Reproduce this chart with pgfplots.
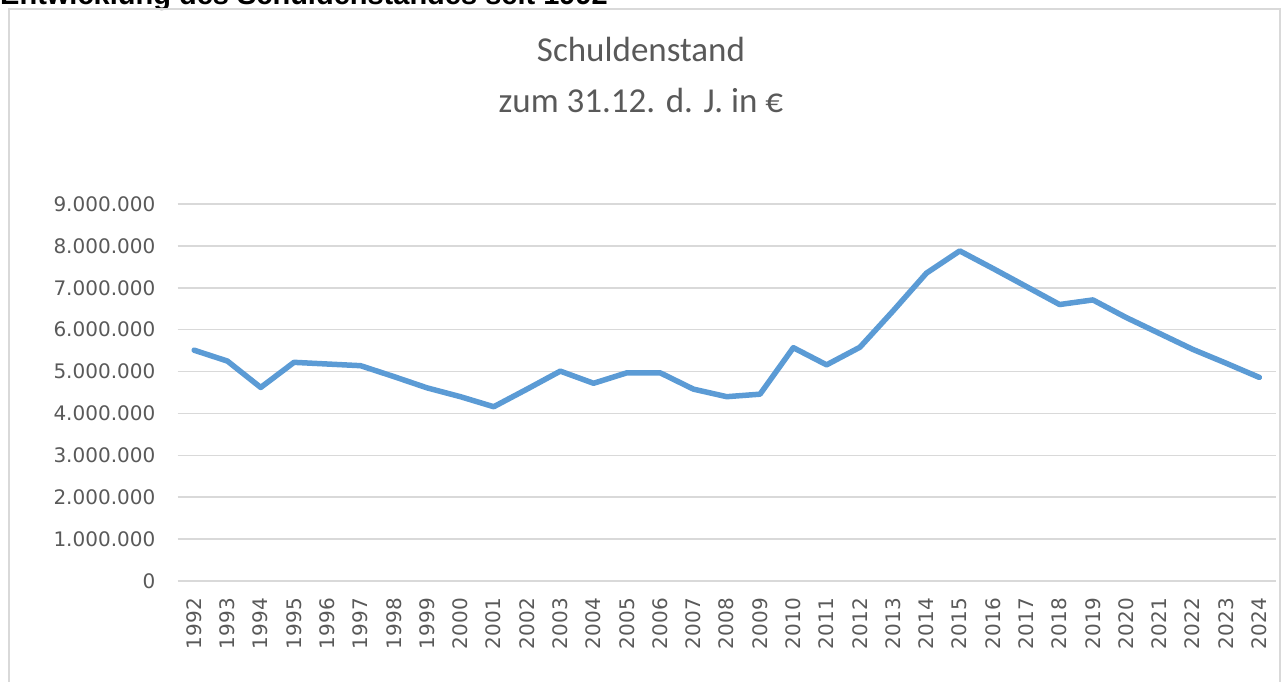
\documentclass[border=0pt]{standalone}
\usepackage{fontspec}
\setmainfont{DejaVu Sans}
\newfontfamily\titlefont{Carlito}
\newfontfamily\headfont{Liberation Sans}
\usepackage{pgfplots}
\pgfplotsset{compat=1.18}
\definecolor{linecol}{HTML}{5B9BD5}
\definecolor{gridcol}{HTML}{D9D9D9}
\definecolor{txtcol}{HTML}{595959}

\begin{document}
\begin{tikzpicture}[x=1pt,y=1pt]
\useasboundingbox (0,0) rectangle (1283,682);
% heading cut off at the top edge
\node[anchor=base west, inner sep=0pt, font=\headfont\bfseries\fontsize{29}{34}\selectfont]
  at (0,677) {Entwicklung des Schuldenstandes seit 1992};
% chart frame
\draw[gridcol, line width=1.5pt] (9,-20) -- (9,673) -- (1280,673) -- (1280,-20);
% title
\node[anchor=base, inner sep=0pt, text=txtcol, font=\titlefont\fontsize{35}{42}\selectfont]
  at (641,620) {Schuldenstand};
\node[anchor=base, inner sep=0pt, text=txtcol, font=\titlefont\fontsize{35}{42}\selectfont]
  at (641,569) {zum 31.12. d. J. in €};
\begin{axis}[
    at={(177.5pt,101pt)}, anchor=south west,
    scale only axis, width=1098.5pt, height=377pt,
    xmin=1991.5, xmax=2024.5, ymin=0, ymax=9000000,
    axis line style={draw=none},
    major tick length=0pt, tick style={draw=none},
    xtick={1992,...,2024},
    ytick={0,1000000,...,9000000},
    scaled y ticks=false,
    ymajorgrids, major grid style={gridcol, line width=1.6pt},
    /pgf/number format/assume math mode=true,
    xticklabel style={/pgf/number format/1000 sep={}, rotate=90, anchor=east,
        inner sep=0pt, xshift=-17pt, text=txtcol, font=\fontsize{20}{23}\selectfont},
    yticklabel style={/pgf/number format/.cd, fixed, 1000 sep={.}, /tikz/.cd,
        anchor=east, inner sep=0pt, xshift=-22pt, text=txtcol,
        font=\fontsize{20}{23}\selectfont},
    clip=false,
]
\addplot[linecol, line width=5.5pt, line join=round, line cap=round, mark=none] coordinates {
    (1992,5510000) (1993,5250000) (1994,4620000) (1995,5220000) (1996,5180000)
    (1997,5140000) (1998,4880000) (1999,4610000) (2000,4400000) (2001,4160000)
    (2002,4580000) (2003,5010000) (2004,4720000) (2005,4970000) (2006,4970000)
    (2007,4580000) (2008,4400000) (2009,4460000) (2010,5570000) (2011,5160000)
    (2012,5580000) (2013,6450000) (2014,7350000) (2015,7880000) (2016,7460000)
    (2017,7030000) (2018,6600000) (2019,6710000) (2020,6290000) (2021,5910000)
    (2022,5530000) (2023,5200000) (2024,4860000)
};
\end{axis}
\end{tikzpicture}
\end{document}
